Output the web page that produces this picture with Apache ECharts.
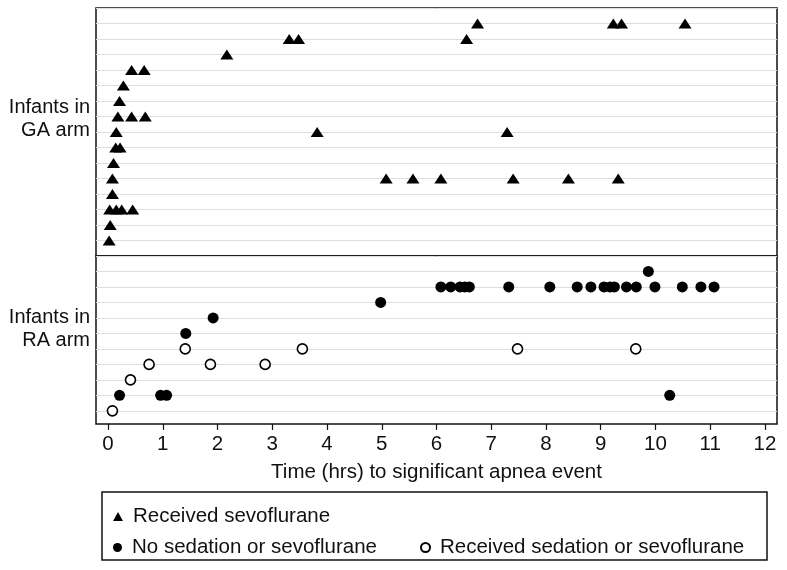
<!DOCTYPE html>
<html><head><meta charset="utf-8">
<script src="https://cdn.jsdelivr.net/npm/echarts@6/dist/echarts.min.js"></script>
<style>html,body{margin:0;padding:0;background:#fff}#c{width:787px;height:570px}</style>
</head><body><div id="c"></div>
<script>
// GA arm: each inner array lists event times (hrs) for one infant row (row 1 = bottom)
const gaRows = [
  [0.02],
  [0.04],
  [0.03, 0.15, 0.25, 0.45],
  [0.08],
  [0.08, 5.08, 5.57, 6.08, 7.40, 8.41, 9.32],
  [0.10],
  [0.14, 0.22],
  [0.15, 3.82, 7.29],
  [0.18, 0.43, 0.68],
  [0.21],
  [0.28],
  [0.43, 0.66],
  [2.17],
  [3.31, 3.48, 6.55],
  [6.75, 9.23, 9.38, 10.54]
];
// RA arm filled (no sedation or sevoflurane): time and row
const raNoSedTimes = [0.21, 0.96, 1.07, 10.26, 1.42, 1.92, 4.98,
  6.08, 6.26, 6.43, 6.52, 6.60, 7.32, 8.07, 8.57, 8.82, 9.06, 9.17, 9.25, 9.47, 9.65, 9.99, 10.49, 10.83, 11.07,
  9.87];
const raNoSedRows  = [2, 2, 2, 2, 6, 7, 8,
  9, 9, 9, 9, 9, 9, 9, 9, 9, 9, 9, 9, 9, 9, 9, 9, 9, 9,
  10];
// RA arm open (received sedation or sevoflurane)
const raSedTimes = [0.08, 0.41, 0.75, 1.87, 2.87, 1.41, 3.55, 7.48, 9.64];
const raSedRows  = [1, 3, 4, 4, 4, 5, 5, 5, 5];
const raGridRows = [1, 2, 3, 4, 5, 6, 7, 8, 9, 10];
const xTicks = [0, 1, 2, 3, 4, 5, 6, 7, 8, 9, 10, 11, 12];
const legendNames = ['Received sevoflurane', 'No sedation or sevoflurane', 'Received sedation or sevoflurane'];
const panelLabels = ['Infants in\nGA arm', 'Infants in\nRA arm'];
const xTitle = 'Time (hrs) to significant apnea event';

const gaData = [];
gaRows.forEach((r, i) => r.forEach(t => gaData.push([t, i + 1])));
const raNoSed = raNoSedTimes.map((t, i) => [t, raNoSedRows[i]]);
const raSed = raSedTimes.map((t, i) => [t, raSedRows[i]]);

const FONT = 'Liberation Sans, Arial, sans-serif';
const FS = 20.5;
const chart = echarts.init(document.getElementById('c'), null, {renderer: 'canvas'});
const grid = '#dedede';
const legText = {fontSize: FS, color: '#111', fontFamily: FONT, padding: [0, 0, 0, 5]};
chart.setOption({
  animation: false,
  backgroundColor: '#fff',
  textStyle: {fontFamily: FONT},
  grid: [
    {left: 96, right: 10, top: 8, height: 248, show: true, borderColor: '#111', borderWidth: 1.5, containLabel: false},
    {left: 96, right: 10, top: 256, height: 168, show: true, borderColor: '#111', borderWidth: 1.5, containLabel: false}
  ],
  xAxis: [
    {gridIndex: 0, type: 'value', min: -0.22, max: 12.22, show: false},
    {gridIndex: 1, type: 'value', min: -0.22, max: 12.22,
      axisLine: {show: false},
      axisTick: {show: true, length: 6, inside: false, customValues: xTicks, lineStyle: {color: '#111', width: 1.2}},
      axisLabel: {customValues: xTicks, color: '#111', fontSize: FS, fontFamily: FONT, margin: 10},
      splitLine: {show: false},
      name: xTitle, nameLocation: 'middle', nameGap: 38,
      nameTextStyle: {color: '#111', fontSize: FS, fontFamily: FONT}}
  ],
  yAxis: [
    {gridIndex: 0, type: 'value', min: 0, max: 16, interval: 1,
      axisLine: {show: false}, axisTick: {show: false}, axisLabel: {show: false},
      splitLine: {show: true, lineStyle: {color: grid, width: 1}}},
    {gridIndex: 1, type: 'value', min: 0.15, max: 11,
      axisLine: {show: false}, axisTick: {show: false}, axisLabel: {show: false},
      splitLine: {show: false}}
  ],
  legend: [
    {data: [legendNames[0]], left: 113, top: 506, padding: 0, itemWidth: 10, itemHeight: 9, itemGap: 5, textStyle: legText},
    {data: [legendNames[1]], left: 113, top: 537, padding: 0, itemWidth: 9, itemHeight: 9, itemGap: 5, textStyle: legText},
    {data: [legendNames[2]], left: 420, top: 537, padding: 0, itemWidth: 9, itemHeight: 9, itemGap: 5, textStyle: legText}
  ],
  series: [
    {name: legendNames[0], type: 'scatter', xAxisIndex: 0, yAxisIndex: 0, data: gaData,
      symbol: 'triangle', symbolSize: [13, 10], z: 3,
      itemStyle: {color: '#000', opacity: 1}},
    {name: legendNames[1], type: 'scatter', xAxisIndex: 1, yAxisIndex: 1, data: raNoSed,
      symbol: 'circle', symbolSize: 11, z: 3,
      itemStyle: {color: '#000', opacity: 1},
      markLine: {silent: true, symbol: 'none', z: 1, label: {show: false},
        lineStyle: {color: grid, width: 1, type: 'solid'},
        data: raGridRows.map(v => ({yAxis: v}))}},
    {name: legendNames[2], type: 'scatter', xAxisIndex: 1, yAxisIndex: 1, data: raSed,
      symbol: 'circle', symbolSize: 10, z: 3,
      itemStyle: {color: '#fff', borderColor: '#000', borderWidth: 1.6, opacity: 1}}
  ],
  graphic: [
    {type: 'text', x: 90, y: 96, style: {text: panelLabels[0], font: '20px ' + FONT, fill: '#111', lineHeight: 23, align: 'right'}},
    {type: 'text', x: 90, y: 306, style: {text: panelLabels[1], font: '20px ' + FONT, fill: '#111', lineHeight: 23, align: 'right'}},
    {type: 'rect', shape: {x: 102, y: 492, width: 665, height: 68}, style: {fill: 'none', stroke: '#111', lineWidth: 1.5}, z: 0}
  ]
});
</script></body></html>
